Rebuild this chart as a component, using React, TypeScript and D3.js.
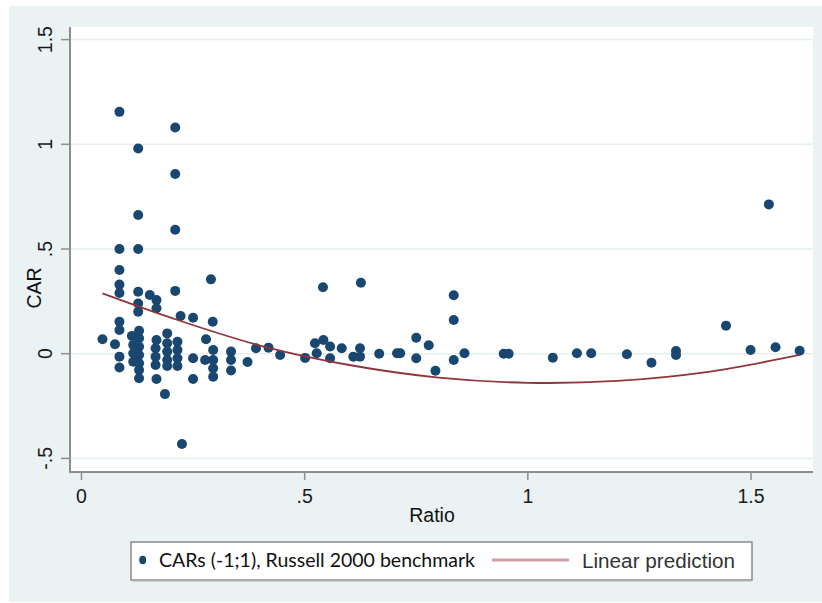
import React from "react";
import * as d3 from "d3";

const carX = [
  0.047, 0.075,
  0.085, 0.085, 0.085, 0.085, 0.085, 0.085, 0.085, 0.085, 0.085,
  0.113, 0.116, 0.116, 0.116,
  0.127, 0.127, 0.127, 0.127, 0.127, 0.127, 0.129, 0.129, 0.129, 0.129, 0.129, 0.129, 0.129,
  0.153,
  0.168, 0.168, 0.168, 0.166, 0.166, 0.166, 0.168,
  0.187,
  0.192, 0.192, 0.192, 0.192, 0.192,
  0.21, 0.21, 0.21, 0.21, 0.215, 0.215, 0.215, 0.215,
  0.222, 0.225,
  0.25, 0.25, 0.25,
  0.279, 0.277,
  0.29, 0.294, 0.295, 0.295, 0.295, 0.295,
  0.335, 0.335, 0.335,
  0.372, 0.391, 0.419, 0.445, 0.501,
  0.523, 0.527, 0.541, 0.542, 0.557, 0.557, 0.583, 0.609, 0.624, 0.624, 0.626,
  0.667, 0.707, 0.714, 0.75, 0.75, 0.778, 0.793, 0.834, 0.834, 0.834, 0.858,
  0.946, 0.957, 1.056, 1.11, 1.142, 1.222, 1.277, 1.332, 1.332, 1.444, 1.499,
  1.54, 1.555, 1.609,
];
const carY = [
  0.069, 0.045,
  1.155, 0.5, 0.4, 0.33, 0.29, 0.153, 0.113, -0.014, -0.066,
  0.085, 0.042, 0.002, -0.038,
  0.98, 0.662, 0.5, 0.296, 0.24, 0.2, 0.11, 0.074, 0.033, -0.006, -0.046, -0.078, -0.117,
  0.28,
  0.256, 0.217, 0.065, 0.026, -0.014, -0.054, -0.121,
  -0.193,
  0.097, 0.05, 0.01, -0.03, -0.059,
  1.08, 0.858, 0.592, 0.3, 0.057, 0.018, -0.022, -0.059,
  0.18, -0.431,
  0.172, -0.022, -0.121,
  0.069, -0.03,
  0.355, 0.153, 0.018, -0.03, -0.07, -0.11,
  0.01, -0.03, -0.08,
  -0.04, 0.026, 0.029, -0.006, -0.02,
  0.05, 0.002, 0.317, 0.065, 0.034, -0.022, 0.026, -0.014, 0.026, -0.014, 0.339,
  0.0, 0.002, 0.002, 0.076, -0.022, 0.04, -0.081, 0.279, 0.161, -0.03, 0.002,
  0.0, 0.0, -0.019, 0.002, 0.002, -0.003, -0.043, 0.013, -0.006, 0.134, 0.018,
  0.713, 0.031, 0.014,
];

const fitX = [0.047, 0.2, 0.4, 0.6, 0.8, 1.0, 1.2, 1.4, 1.609];
const fitY = [0.288, 0.172, 0.039, -0.054, -0.114, -0.139, -0.13, -0.088, -0.006];

const xTicks = [0, 0.5, 1, 1.5];
const xTickLabels = ["0", ".5", "1", "1.5"];
const yTicks = [-0.5, 0, 0.5, 1, 1.5];
const yTickLabels = ["-.5", "0", ".5", "1", "1.5"];

const xTitle = "Ratio";
const yTitle = "CAR";
const legendScatter = "CARs (-1;1), Russell 2000 benchmark";
const legendLine = "Linear prediction";

export default function App() {
  const W = 822;
  const H = 603;
  const plotL = 70, plotR = 813, plotT = 27, plotB = 472;
  const x = d3.scaleLinear().domain([0, 1.5]).range([81.5, 751]);
  const y = d3.scaleLinear().domain([-0.5, 1.5]).range([458.4, 39.6]);
  const pts = carX.map((v, i) => [v, carY[i]] as [number, number]);
  const fitPts = fitX.map((v, i) => [v, fitY[i]] as [number, number]);
  const line = d3
    .line<[number, number]>()
    .x((d) => x(d[0]))
    .y((d) => y(d[1]))
    .curve(d3.curveCatmullRom.alpha(0.5));
  const font = "'Liberation Sans', Arial, sans-serif";
  const dotColor = "#1a476f";
  const lineColor = "#90353b";
  const bg = "#eaf2f3";
  const axisColor = "#8e8e8e";

  return (
    <div style={{ position: "absolute", left: 0, top: 0 }}>
      <svg width={W} height={H} style={{ display: "block" }}>
        <rect x={0} y={0} width={W} height={H} fill="#ffffff" />
        <rect x={9} y={6} width={W - 9} height={596} fill={bg} />
        <rect x={plotL} y={plotT} width={plotR - plotL} height={plotB - plotT} fill="#ffffff" />
        {yTicks.map((t) => (
          <line key={"g" + t} x1={plotL} x2={plotR} y1={y(t)} y2={y(t)} stroke="#e6eff0" strokeWidth={1.5} />
        ))}
        {pts.map((d, i) => (
          <circle key={i} cx={x(d[0])} cy={y(d[1])} r={5} fill={dotColor} />
        ))}
        <path d={line(fitPts) || ""} fill="none" stroke={lineColor} strokeWidth={1.8} />
        <line x1={plotL} x2={plotL} y1={plotT} y2={plotB + 1} stroke={axisColor} strokeWidth={2} />
        <line x1={plotL - 1} x2={plotR} y1={plotB} y2={plotB} stroke={axisColor} strokeWidth={2} />
        {yTicks.map((t, i) => (
          <g key={"y" + t}>
            <line x1={plotL - 9} x2={plotL} y1={y(t)} y2={y(t)} stroke={axisColor} strokeWidth={1.5} />
            <text
              transform={`translate(${52},${y(t)}) rotate(-90)`}
              textAnchor="middle"
              fontFamily={font}
              fontSize={19.5}
              fill="#1a1a1a"
            >
              {yTickLabels[i]}
            </text>
          </g>
        ))}
        {xTicks.map((t, i) => (
          <g key={"x" + t}>
            <line x1={x(t)} x2={x(t)} y1={plotB} y2={plotB + 8} stroke={axisColor} strokeWidth={1.5} />
            <text x={x(t)} y={503} textAnchor="middle" fontFamily={font} fontSize={19.5} fill="#1a1a1a">
              {xTickLabels[i]}
            </text>
          </g>
        ))}
        <text x={432} y={522} textAnchor="middle" fontFamily={font} fontSize={19.5} fill="#111">
          {xTitle}
        </text>
        <text
          transform={`translate(${41},${288}) rotate(-90)`}
          textAnchor="middle"
          fontFamily={font}
          fontSize={19.5}
          fill="#111"
        >
          {yTitle}
        </text>
        <rect x={131} y={542} width={621} height={38} fill="#ffffff" stroke="#8a8a8a" strokeWidth={1.5} />
        <line x1={132} x2={752} y1={581} y2={581} stroke="#b5b5b5" strokeWidth={1} />
        <ellipse cx={142.7} cy={560} rx={3.5} ry={4.2} fill={dotColor} />
        <text
          x={159}
          y={567}
          fontFamily="Lato, 'Open Sans', sans-serif"
          fontSize={18.5}
          fill="#111"
          textLength={316}
          lengthAdjust="spacingAndGlyphs"
        >
          {legendScatter}
        </text>
        <line x1={492} x2={569} y1={560} y2={560} stroke="#d0a0a3" strokeWidth={3} />
        <text
          x={582}
          y={568}
          fontFamily={font}
          fontSize={20.5}
          fill="#333"
          textLength={153}
          lengthAdjust="spacingAndGlyphs"
        >
          {legendLine}
        </text>
      </svg>
    </div>
  );
}
